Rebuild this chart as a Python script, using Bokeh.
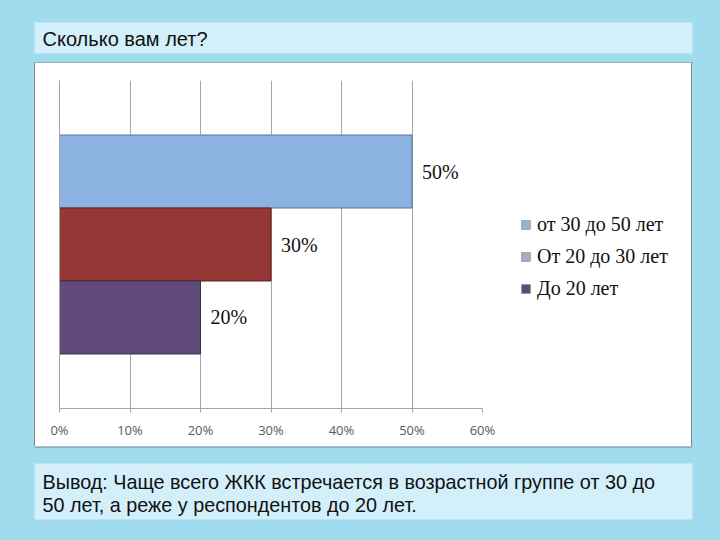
from bokeh.plotting import figure
from bokeh.layouts import column, row
from bokeh.models import (Range1d, BoxAnnotation, Label, Legend, LegendItem, FixedTicker,
                          ColumnDataSource, Spacer)
from bokeh.core.properties import value
from bokeh.embed import file_html
from bokeh.resources import INLINE

title_text = "Сколько вам лет?"
conclusion_lines = [
    "Вывод: Чаще всего ЖКК встречается в возрастной группе от 30 до",
    "50 лет, а реже у респондентов до 20 лет.",
]
categories = ["от 30 до 50 лет", "От 20 до 30 лет", "До 20 лет"]
values = [50, 30, 20]
bar_colors = ["#8db3e2", "#953735", "#604a7b"]
bar_outlines = ["#5d7291", "#5e2221", "#3e3050"]
legend_colors = ["#95b3d7", "#b1a6c6", "#5f497a"]
x_ticks = [0, 10, 20, 30, 40, 50, 60]

BG = "#a0dbee"
BOX = "#d3f0fa"
EDGE = "#858585"
GRID = "#a6a6a6"
W = 720
CHART_TOP, CHART_BOT = 63, 446          # white chart box interior, page pixels
CHART_L, CHART_R = 35, 691
FL, FR, FT, FB = 59, 482, 80, 408       # plot frame, page pixels
SPLIT = 502                              # where the legend panel starts


def strip(width, height):
    f = figure(width=width, height=height, output_backend="svg", toolbar_location=None,
               x_axis_type=None, y_axis_type=None, min_border=0,
               x_range=Range1d(0, width), y_range=Range1d(0, height))
    f.border_fill_color = BG
    f.background_fill_color = BG
    f.outline_line_color = None
    return f


def box(f, page_top, left, right, top, bottom, color):
    h = f.height
    f.add_layout(BoxAnnotation(left=left, right=right, top=h - (top - page_top), bottom=h - (bottom - page_top),
                               left_units="screen", right_units="screen",
                               top_units="screen", bottom_units="screen",
                               fill_color=color, fill_alpha=1, line_color=None, level="image"))


def text(f, page_top, x, y, s, size):
    f.add_layout(Label(x=x, y=f.height - (y - page_top), x_units="screen", y_units="screen", text=s,
                       text_font="Liberation Sans", text_font_size=size, text_color="#111111",
                       text_baseline="middle"))


# ---- top strip with the question (+ top edge of the chart box)
top = strip(W, CHART_TOP)
box(top, 0, 34, 692, 22, 53, BOX)
box(top, 0, CHART_L - 1, CHART_R + 1, CHART_TOP - 1, CHART_TOP, EDGE)
text(top, 0, 42, 38, title_text, "20px")

# ---- bottom strip with the conclusion (+ bottom edge of the chart box)
bot = strip(W, 540 - CHART_BOT)
box(bot, CHART_BOT, CHART_L - 1, CHART_R + 1, CHART_BOT, CHART_BOT + 1, EDGE)
box(bot, CHART_BOT, 34, 692, 463, 519, BOX)
for i, line in enumerate(conclusion_lines):
    text(bot, CHART_BOT, 42, 481 + 23 * i, line, "19.8px")

# ---- chart
n = len(categories)
pad = 0.7466
ypos = [n - 1 - i for i in range(n)]
CH = CHART_BOT - CHART_TOP
p = figure(width=SPLIT - CHART_L, height=CH, output_backend="svg", toolbar_location=None,
           x_range=Range1d(0, 60), y_range=Range1d(-0.5 - pad, n - 0.5 + pad),
           min_border_left=FL - CHART_L, min_border_right=SPLIT - FR,
           min_border_top=FT - CHART_TOP, min_border_bottom=CHART_BOT - FB)
p.border_fill_color = "white"
p.background_fill_color = "white"
p.outline_line_color = None
p.ygrid.visible = False
# left axis kept only as the 0% line
p.yaxis.ticker = FixedTicker(ticks=[])
p.yaxis.axis_line_color = GRID
p.yaxis.major_tick_line_color = None
p.yaxis.minor_tick_line_color = None
p.yaxis.major_label_text_color = None

p.xaxis.ticker = FixedTicker(ticks=x_ticks)
p.xgrid.ticker = FixedTicker(ticks=x_ticks)
p.xaxis.major_label_overrides = {t: f"{t}%" for t in x_ticks}
p.xgrid.grid_line_color = GRID
p.xgrid.grid_line_width = 1
p.xaxis.axis_line_color = GRID
p.xaxis.major_tick_line_color = GRID
p.xaxis.major_tick_out = 4
p.xaxis.major_tick_in = 0
p.xaxis.minor_tick_line_color = None
p.xaxis.major_label_text_font = "Open Sans"
p.xaxis.major_label_text_font_size = "13px"
p.xaxis.major_label_text_color = "#595959"
p.xaxis.major_label_standoff = 8

src = ColumnDataSource(dict(y=ypos, right=values, fill=bar_colors, line=bar_outlines,
                            lab=[f"{v}%" for v in values]))
p.hbar(y="y", left=0, right="right", height=1, fill_color="fill", line_color="line",
       line_width=1, source=src)
p.text(x="right", y="y", text="lab", x_offset=10, text_baseline="middle",
       text_font=value("Liberation Serif"), text_font_size="20px", text_color="#111111", source=src)

# ---- legend panel (white, right part of the chart box)
lg = figure(width=CHART_R - SPLIT, height=CH, output_backend="svg", toolbar_location=None,
            x_axis_type=None, y_axis_type=None, min_border=0,
            min_border_top=FT - CHART_TOP, min_border_bottom=CHART_BOT - FB,
            x_range=Range1d(-2, -1), y_range=Range1d(-0.5 - pad, n - 0.5 + pad))
lg.border_fill_color = "white"
lg.background_fill_color = "white"
lg.outline_line_color = None
lsrc = ColumnDataSource(dict(y=ypos, right=values, fill=legend_colors))
# the same series, drawn off-range so only its legend swatches show
lr = lg.hbar(y="y", left=0, right="right", height=1, fill_color="fill",
             line_color="#7f7f7f", line_width=0.6, source=lsrc)
items = [LegendItem(label=cat, renderers=[lr], index=i) for i, cat in enumerate(categories)]
legend = Legend(items=items, location=(520 - SPLIT, FB - 300), padding=0, margin=0,
                glyph_width=11, glyph_height=11, label_standoff=6, label_height=20, spacing=9,
                label_text_font="Liberation Serif", label_text_font_size="20px",
                label_text_color="#111111", border_line_color=None, background_fill_alpha=0)
lg.add_layout(legend)

chart_box = row(p, lg, spacing=0, styles={"background-color": "white"})
middle = row(Spacer(width=CHART_L - 1, height=CH),
             Spacer(width=1, height=CH, styles={"background-color": EDGE}),
             chart_box,
             Spacer(width=1, height=CH, styles={"background-color": EDGE}),
             Spacer(width=W - CHART_R - 1, height=CH),
             spacing=0, styles={"background-color": BG})

layout = column(top, middle, bot, spacing=0, styles={"background-color": BG})
open("out.html", "w").write(file_html(layout, INLINE))
